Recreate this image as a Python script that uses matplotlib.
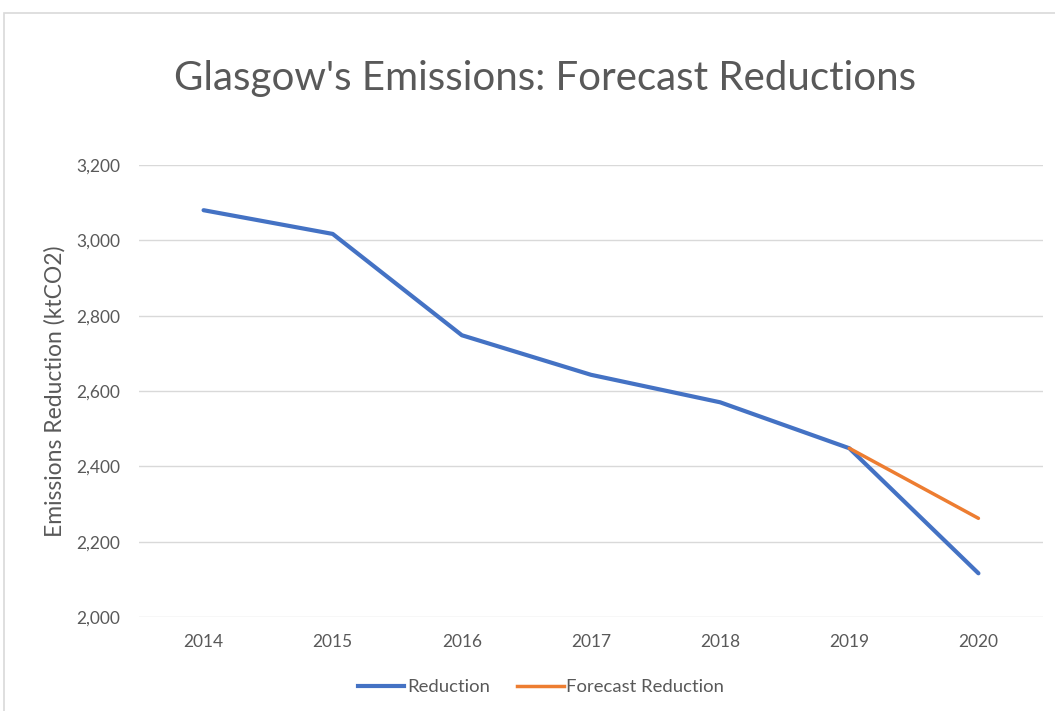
import matplotlib
matplotlib.use("Agg")
import matplotlib.pyplot as plt
from matplotlib.patches import Rectangle
from matplotlib.lines import Line2D

# Data
years = ["2014", "2015", "2016", "2017", "2018", "2019", "2020"]
reduction = [3080, 3017, 2748, 2643, 2570, 2448, 2116]
forecast_years = ["2019", "2020"]
forecast_reduction = [2448, 2262]
y_ticks = [2000, 2200, 2400, 2600, 2800, 3000, 3200]

BLUE = "#4472C4"
ORANGE = "#ED7D31"
TEXT = "#595959"
GRID = "#D9D9D9"
FONT = "Lato"

plt.rcParams["font.family"] = [FONT, "DejaVu Sans"]

W, H = 1055, 711
fig = plt.figure(figsize=(W / 100, H / 100), dpi=100)
fig.patch.set_facecolor("white")

# chart frame (left and top edges visible)
fig.patches.append(Rectangle((4 / W, -0.05), 1.2, 1 - 13 / H + 0.05,
                             transform=fig.transFigure, fill=False,
                             edgecolor=GRID, linewidth=1.2, zorder=0))

left, right = 139 / W, 1043 / W
bottom, top = 1 - 617 / H, 1 - 165 / H
ax = fig.add_axes([left, bottom, right - left, top - bottom])

x = list(range(len(years)))
fx = [years.index(y) for y in forecast_years]

ax.plot(x, reduction, color=BLUE, linewidth=3.0, solid_capstyle="round",
        solid_joinstyle="round", zorder=3)
ax.plot(fx, forecast_reduction, color=ORANGE, linewidth=2.5,
        solid_capstyle="round", zorder=4)

ax.set_xlim(-0.5, len(years) - 0.5)
ax.set_ylim(y_ticks[0], y_ticks[-1])
ax.set_yticks(y_ticks)
ax.set_yticklabels([f"{v:,}" for v in y_ticks])
ax.set_xticks(x)
ax.set_xticklabels(years)

ax.grid(axis="y", color=GRID, linewidth=1.0)
ax.set_axisbelow(True)
for s in ax.spines.values():
    s.set_visible(False)
ax.tick_params(axis="both", length=0, colors=TEXT, labelsize=12.5)
ax.tick_params(axis="y", pad=13.5)
ax.tick_params(axis="x", pad=12)

fig.text(55 / W, 1 - 391 / H, "Emissions Reduction (ktCO2)", rotation=90,
         ha="center", va="center", color=TEXT, fontsize=16.5)

fig.text(545 / W, 1 - 90 / H, "Glasgow's Emissions: Forecast Reductions",
         ha="center", va="baseline", color=TEXT, fontsize=29)

handles = [Line2D([], [], color=BLUE, linewidth=3.0),
           Line2D([], [], color=ORANGE, linewidth=2.5)]
fig.legend(handles, ["Reduction", "Forecast Reduction"], loc="center",
           bbox_to_anchor=(541 / W, 1 - 687 / H), ncol=2, frameon=False,
           fontsize=13.3, handlelength=2.5, handletextpad=0.15,
           columnspacing=1.5, labelcolor=TEXT)

fig.savefig("out.png", dpi=100, facecolor="white")
